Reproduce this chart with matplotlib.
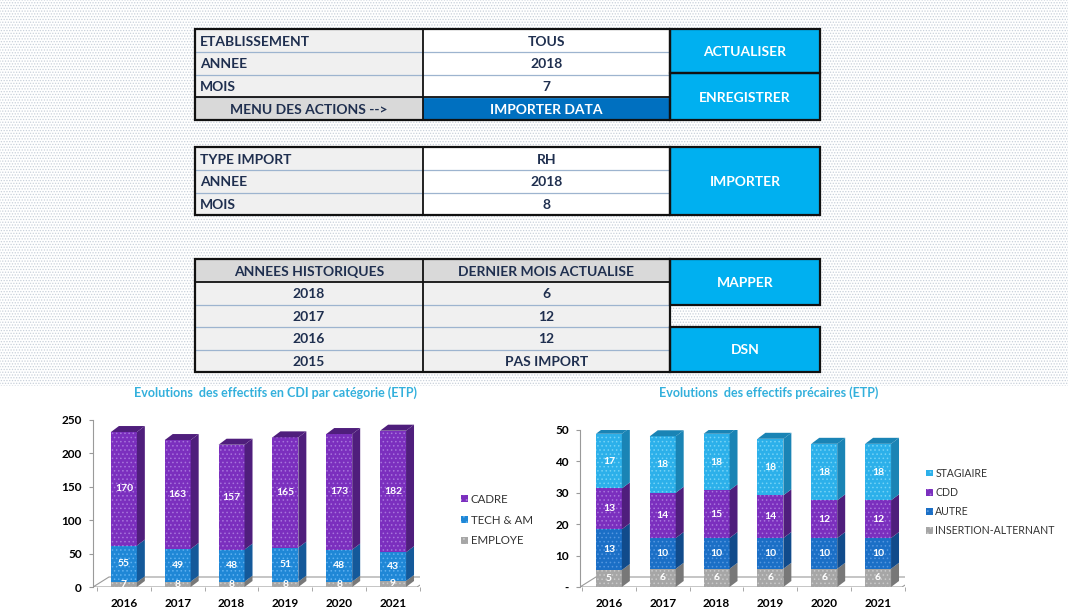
import matplotlib.pyplot as plt
from matplotlib.patches import Polygon, Rectangle, Patch
from matplotlib.ticker import FixedLocator, FuncFormatter

plt.rcParams["font.family"] = ["Lato", "DejaVu Sans"]
plt.rcParams["hatch.linewidth"] = 0.6

W, H = 1068, 613

# --- data -------------------------------------------------------------
years = ["2016", "2017", "2018", "2019", "2020", "2021"]

# effectifs en CDI par categorie (ETP), stacked bottom -> top
cdi_names = ["EMPLOYE", "TECH & AM", "CADRE"]
employe = [7, 8, 8, 8, 8, 9]
tech_am = [55, 49, 48, 51, 48, 43]
cadre = [170, 163, 157, 165, 173, 182]

# effectifs precaires (ETP), stacked bottom -> top
precaire_names = ["INSERTION-ALTERNANT", "AUTRE", "CDD", "STAGIAIRE"]
insertion = [5.4, 5.8, 5.8, 5.8, 5.8, 5.8]
autre = [13.0, 9.8, 9.8, 9.8, 9.8, 9.8]
cdd = [13.0, 14.4, 15.2, 13.6, 12.0, 12.0]
stagiaire = [17.4, 18.0, 18.0, 18.0, 18.0, 18.0]

# control panel tables
params_labels = ["ETABLISSEMENT", "ANNEE", "MOIS"]
params_values = ["TOUS", "2018", "7"]
import_labels = ["TYPE IMPORT", "ANNEE", "MOIS"]
import_values = ["RH", "2018", "8"]
hist_header = ["ANNEES HISTORIQUES", "DERNIER MOIS ACTUALISE"]
hist_years = ["2018", "2017", "2016", "2015"]
hist_months = ["6", "12", "12", "PAS IMPORT"]

# --- styles -----------------------------------------------------------
NAVY = "#1f2f4f"
BUTTON = "#00b0f0"
DARK_BUTTON = "#0070c0"
LABEL_BG = "#f0f0f0"
HEADER_BG = "#d9d9d9"
ROW_LINE = "#9db4cf"
TITLE = "#33b0dc"

# (front, side, dots)
PURPLE = ("#7b2fbe", "#4f1e7c", "#a774dc")
BLUE_TECH = ("#1f87d6", "#14599a", "#5fb1f0")
GREY = ("#a6a6a6", "#787878", "#c9c9c9")
CYAN = ("#2cb0ea", "#1a84b5", "#74d2f6")
BLUE_AUTRE = ("#1b6fc6", "#114b8b", "#5597e0")

fig = plt.figure(figsize=(W / 100, H / 100), dpi=100)
fig.patch.set_facecolor("white")

bg = fig.add_axes([0, 0, 1, 1])
bg.set_xlim(0, W)
bg.set_ylim(H, 0)
bg.axis("off")

# dotted sheet background behind the control panel
bg.add_patch(Rectangle((0, 0), W, 386, facecolor="white", edgecolor="#c8d0da",
                       hatch="......", linewidth=0, zorder=0))


def cell(x0, x1, y0, y1, text, face, color=NAVY, ha="center", size=10):
    bg.add_patch(Rectangle((x0, y0), x1 - x0, y1 - y0, facecolor=face,
                           edgecolor="none", zorder=1))
    if text:
        tx = x0 + 5 if ha == "left" else (x0 + x1) / 2
        bg.text(tx, (y0 + y1) / 2 + 1, text, ha=ha, va="center", color=color,
                fontsize=size, fontweight="bold", zorder=3)


def box(x0, x1, y0, y1, lw=1.6):
    bg.add_patch(Rectangle((x0, y0), x1 - x0, y1 - y0, facecolor="none",
                           edgecolor="#111111", linewidth=lw, zorder=4))


def hline(x0, x1, y, color=ROW_LINE, lw=0.9):
    bg.plot([x0, x1], [y, y], color=color, linewidth=lw, zorder=2)


def vline(x, y0, y1, lw=1.3):
    bg.plot([x, x], [y0, y1], color="#111111", linewidth=lw, zorder=4)


C0, C1, C2, C3 = 195, 423, 670, 820

# table 1 : parametres
rows1 = [29, 52, 74.5, 97, 120]
for i, (lab, val) in enumerate(zip(params_labels, params_values)):
    cell(C0, C1, rows1[i], rows1[i + 1], lab, LABEL_BG, ha="left")
    cell(C1, C2, rows1[i], rows1[i + 1], val, "white")
    hline(C0, C2, rows1[i + 1])
cell(C0, C1, rows1[3], rows1[4], "MENU DES ACTIONS -->", HEADER_BG)
cell(C1, C2, rows1[3], rows1[4], "IMPORTER DATA", DARK_BUTTON, color="white")
box(C0, C2, rows1[0], rows1[4])
vline(C1, rows1[0], rows1[4])
hline(C0, C2, rows1[3], color="#111111", lw=1.3)
cell(C2, C3, rows1[0], 73, "ACTUALISER", BUTTON, color="white")
cell(C2, C3, 73, rows1[4], "ENREGISTRER", BUTTON, color="white")
box(C2, C3, rows1[0], 73)
box(C2, C3, 73, rows1[4])

# table 2 : import
rows2 = [147, 170, 192.5, 215]
for i, (lab, val) in enumerate(zip(import_labels, import_values)):
    cell(C0, C1, rows2[i], rows2[i + 1], lab, LABEL_BG, ha="left")
    cell(C1, C2, rows2[i], rows2[i + 1], val, "white")
    if i < 2:
        hline(C0, C2, rows2[i + 1])
box(C0, C2, rows2[0], rows2[-1])
vline(C1, rows2[0], rows2[-1])
cell(C2, C3, rows2[0], rows2[-1], "IMPORTER", BUTTON, color="white")
box(C2, C3, rows2[0], rows2[-1])

# table 3 : historique
rows3 = [259, 282, 304.5, 327, 349.5, 372]
cell(C0, C1, rows3[0], rows3[1], hist_header[0], HEADER_BG)
cell(C1, C2, rows3[0], rows3[1], hist_header[1], HEADER_BG)
for i, (yr, mo) in enumerate(zip(hist_years, hist_months)):
    cell(C0, C1, rows3[i + 1], rows3[i + 2], yr, LABEL_BG)
    cell(C1, C2, rows3[i + 1], rows3[i + 2], mo, LABEL_BG)
    if i > 0:
        hline(C0, C2, rows3[i + 1])
hline(C0, C2, rows3[1], color="#111111", lw=1.3)
box(C0, C2, rows3[0], rows3[-1])
vline(C1, rows3[0], rows3[-1])
cell(C2, C3, rows3[0], rows3[2], "MAPPER", BUTTON, color="white")
box(C2, C3, rows3[0], rows3[2])
cell(C2, C3, rows3[3], rows3[5], "DSN", BUTTON, color="white")
box(C2, C3, rows3[3], rows3[5])


# --- 3D-looking stacked column charts ---------------------------------
STEP = 54.0     # pixels between two columns
DEPTH_X = 8.0   # pixels of column depth
DEPTH_Y = 6.0


def stacked_chart(x_left, x_right, y_zero, y_top, first_center, ymax, ystep,
                  series, names, styles, title, title_x, zero_text,
                  legend_x, legend_y, legend_spacing, legend_size):
    ax = fig.add_axes([x_left / W, 1 - y_zero / H,
                       (x_right - x_left) / W, (y_zero - y_top) / H])
    ax.patch.set_alpha(0)
    xmin = -(first_center - x_left) / STEP
    xmax = xmin + (x_right - x_left) / STEP
    ax.set_xlim(xmin, xmax)
    ax.set_ylim(0, ymax)

    dx = DEPTH_X / STEP
    dy = DEPTH_Y * ymax / (y_zero - y_top)
    width = 26 / STEP

    # floor of the 3D plot
    fdx = 16 / STEP
    fdy = 10 * ymax / (y_zero - y_top)
    floor_right = xmin + (x_right - x_left - 2) / STEP
    ax.add_patch(Polygon([(xmin, 0), (floor_right, 0), (floor_right + fdx, fdy),
                          (xmin + fdx, fdy)], closed=True, facecolor="white",
                         edgecolor="#9a9a9a", linewidth=0.8, zorder=1))

    xs = list(range(len(years)))
    bottoms = [0.0] * len(years)
    for k, (vals, style) in enumerate(zip(series, styles)):
        front, side, dots = style
        ax.bar(xs, vals, width, bottom=bottoms, color=front, edgecolor=dots,
               hatch="....", linewidth=0, zorder=3)
        for x, b, v in zip(xs, bottoms, vals):
            xr = x + width / 2
            ax.add_patch(Polygon([(xr, b), (xr + dx, b + dy), (xr + dx, b + v + dy),
                                  (xr, b + v)], closed=True, facecolor=side,
                                 edgecolor="none", zorder=3))
            if k == len(series) - 1:
                xl = x - width / 2
                top = b + v
                ax.add_patch(Polygon([(xl, top), (xl + dx, top + dy),
                                      (xr + dx, top + dy), (xr, top)], closed=True,
                                     facecolor=side, edgecolor="none", zorder=3))
            ax.text(x, b + v / 2, f"{v:.0f}", ha="center", va="center",
                    color="white", fontsize=7.5, fontweight="bold", zorder=5)
        bottoms = [b + v for b, v in zip(bottoms, vals)]

    for s in ("top", "right"):
        ax.spines[s].set_visible(False)
    ax.spines["left"].set_color("#9a9a9a")
    ax.spines["left"].set_linewidth(0.8)
    ax.spines["bottom"].set_visible(False)

    ax.yaxis.set_major_locator(FixedLocator(list(range(0, ymax + 1, ystep))))
    ax.yaxis.set_major_formatter(
        FuncFormatter(lambda v, p: zero_text if v == 0 else f"{v:.0f}"))
    ax.tick_params(axis="y", length=3, color="#9a9a9a", pad=5, labelsize=8.5)
    ax.set_xticks(xs)
    ax.set_xticklabels(years)
    ax.tick_params(axis="x", length=0, pad=8, labelsize=8.5)
    for lab in ax.get_xticklabels() + ax.get_yticklabels():
        lab.set_fontweight("bold")
    ax.set_xticks([x - 0.5 for x in xs] + [xs[-1] + 0.5], minor=True)
    ax.tick_params(axis="x", which="minor", length=3, color="#9a9a9a")

    fig.text(title_x / W, 1 - 393 / H, title, ha="center", va="center",
             color=TITLE, fontsize=9, fontweight="bold")

    handles = [Patch(facecolor=st[0], edgecolor=st[2], hatch="...", linewidth=0)
               for st in styles][::-1]
    ax.legend(handles, names[::-1], loc="center left", frameon=False,
              bbox_to_anchor=(legend_x / W, 1 - legend_y / H),
              bbox_transform=fig.transFigure, fontsize=legend_size,
              handlelength=0.6, handleheight=0.6, handletextpad=0.25,
              labelspacing=legend_spacing, borderpad=0, labelcolor="#333333")
    return ax


stacked_chart(93, 420, 587, 420, 124, 250, 50,
              [employe, tech_am, cadre], cdi_names,
              [GREY, BLUE_TECH, PURPLE],
              "Evolutions  des effectifs en CDI par catégorie (ETP)", 276, "0",
              455, 520, 0.85, 8.3)

stacked_chart(580, 905, 587, 430, 609, 50, 10,
              [insertion, autre, cdd, stagiaire], precaire_names,
              [GREY, BLUE_AUTRE, PURPLE, CYAN],
              "Evolutions  des effectifs précaires (ETP)", 769, "-",
              921, 502, 0.78, 7.6)

fig.savefig("out.png", dpi=100)
